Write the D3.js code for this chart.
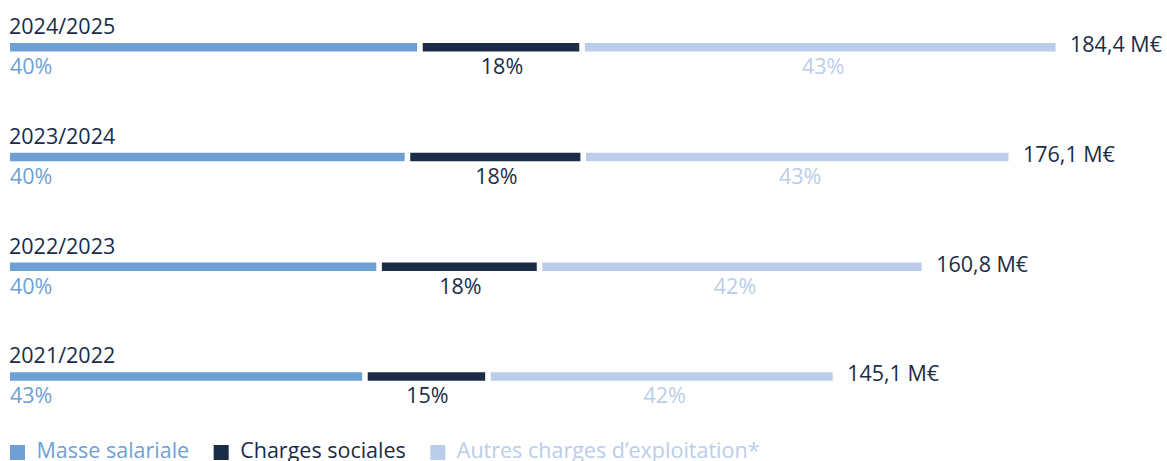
<!DOCTYPE html>
<html>
<head>
<meta charset="utf-8">
<script src="https://cdn.jsdelivr.net/npm/d3@7"></script>
<style>
  html, body { margin: 0; padding: 0; background: #ffffff; }
  svg { display: block; }
  text { font-family: "Open Sans", "Noto Sans", sans-serif; }
</style>
</head>
<body>
<svg id="chart" width="1167" height="461"></svg>
<script>
// ---- Data ----
const years = ["2024/2025", "2023/2024", "2022/2023", "2021/2022"];
const totals = [184.4, 176.1, 160.8, 145.1];
const totalLabels = ["184,4 M€", "176,1 M€", "160,8 M€", "145,1 M€"];
const masseSalariale = [72.3, 70.1, 65.1, 62.6];
const chargesSociales = [28.6, 31.0, 28.3, 21.7];
const autresCharges = [83.5, 75.0, 67.4, 60.8];
const pctMasse = ["40%", "40%", "40%", "43%"];
const pctSociales = ["18%", "18%", "18%", "15%"];
const pctAutres = ["43%", "43%", "42%", "42%"];
const seriesNames = ["Masse salariale", "Charges sociales", "Autres charges d’exploitation*"];

// ---- Styles ----
const colors = ["#6e9fd5", "#1a2c47", "#bacdea"];
const textDark = "#1a2c47";
const fontSize = 21.5;

const svg = d3.select("#chart");

const x = d3.scaleLinear().domain([0, 184.4]).range([10, 1055.5]);
const y = d3.scaleBand().domain(years).range([43, 482]).paddingInner(0).paddingOuter(0);
const barH = 8.5;
const gap = 2.8;

const seriesVals = [masseSalariale, chargesSociales, autresCharges];
const seriesPct = [pctMasse, pctSociales, pctAutres];

years.forEach((yr, i) => {
  const g = svg.append("g");
  const top = y(yr);
  // year title
  g.append("text")
    .attr("x", 9)
    .attr("y", top - 9)
    .attr("fill", textDark)
    .attr("font-size", fontSize)
    .text(yr);

  let cum = 0;
  seriesVals.forEach((vals, s) => {
    const start = cum;
    const end = cum + vals[i];
    cum = end;
    const x0 = s === 0 ? x(start) : x(start) + gap;
    const x1 = s === seriesVals.length - 1 ? x(totals[i]) : x(end) - gap;
    g.append("rect")
      .attr("x", x0)
      .attr("y", top)
      .attr("width", Math.max(0, x1 - x0))
      .attr("height", barH)
      .attr("fill", colors[s]);
    const lbl = g.append("text")
      .attr("y", top + 31)
      .attr("fill", colors[s])
      .attr("font-size", fontSize)
      .text(seriesPct[s][i]);
    if (s === 0) {
      lbl.attr("x", x0).attr("text-anchor", "start");
    } else {
      lbl.attr("x", (x0 + x1) / 2 + (s === 2 ? 3 : 1)).attr("text-anchor", "middle");
    }
  });

  g.append("text")
    .attr("x", x(totals[i]) + 14.5)
    .attr("y", top + 9)
    .attr("fill", textDark)
    .attr("font-size", fontSize)
    .text(totalLabels[i]);
});

// ---- Legend ----
const legend = svg.append("g");
let lx = 10;
seriesNames.forEach((name, s) => {
  legend.append("rect")
    .attr("x", lx)
    .attr("y", 445)
    .attr("width", 15)
    .attr("height", 15)
    .attr("fill", colors[s]);
  const t = legend.append("text")
    .attr("x", lx + 26.5)
    .attr("y", 458)
    .attr("fill", s === 1 ? textDark : colors[s])
    .attr("font-size", fontSize)
    .text(name);
  lx = lx + 26.5 + t.node().getComputedTextLength() + 24.5;
});
</script>
</body>
</html>
